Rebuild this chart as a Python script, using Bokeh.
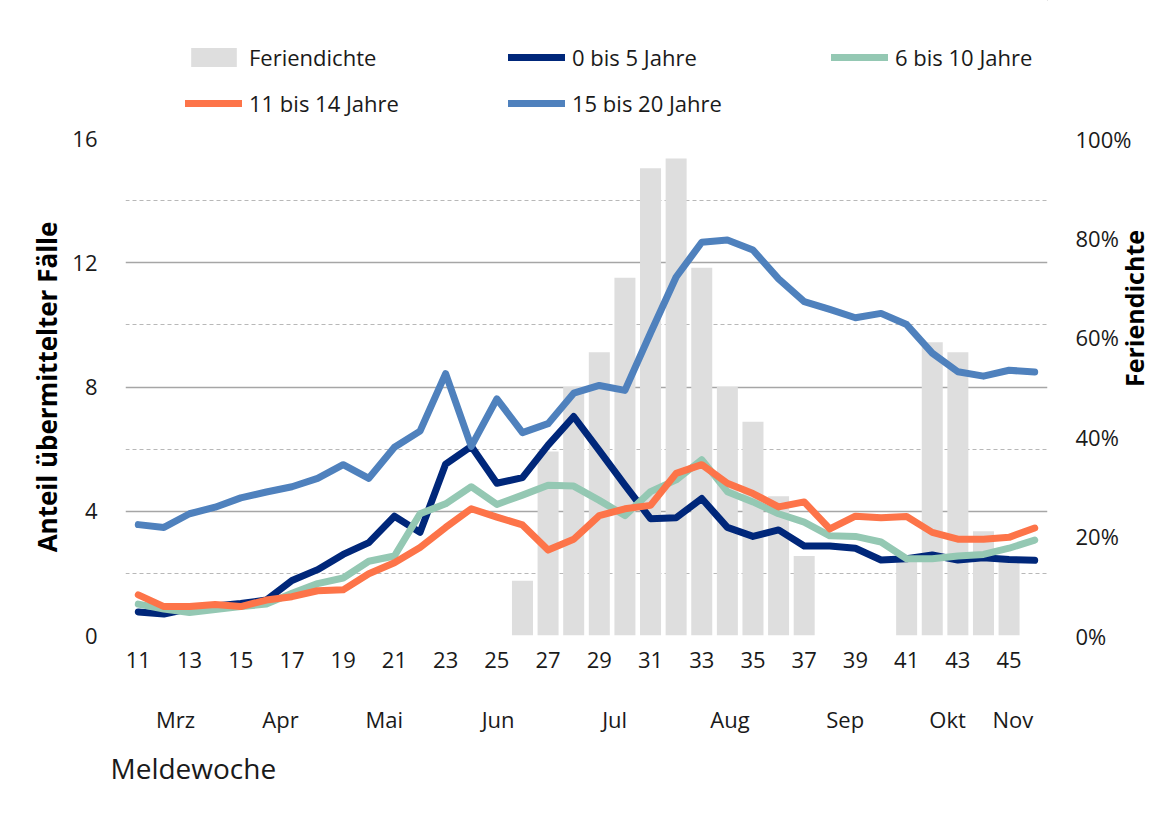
import math
from bokeh.plotting import figure
from bokeh.layouts import column
from bokeh.models import (Range1d, LinearAxis, FixedTicker, PrintfTickFormatter,
                          Legend, LegendItem, Title)
from bokeh.embed import file_html
from bokeh.resources import INLINE

# ---------------- data ----------------
weeks = list(range(11, 47))
tick_weeks = list(range(11, 46, 2))

ferien_weeks = [26, 27, 28, 29, 30, 31, 32, 33, 34, 35, 36, 37, 41, 42, 43, 44, 45]
ferien_pct = [11, 37, 50, 57, 72, 94, 96, 74, 50, 43, 28, 16, 15, 59, 57, 21, 15]

age_0_5 = [0.76, 0.69, 0.87, 0.95, 1.03, 1.14, 1.77, 2.12, 2.61, 2.99, 3.84, 3.32,
           5.52, 6.09, 4.90, 5.08, 6.13, 7.05, 5.95, 4.84, 3.76, 3.79, 4.41, 3.48,
           3.19, 3.40, 2.88, 2.88, 2.81, 2.43, 2.47, 2.59, 2.43, 2.50, 2.45, 2.42]
age_6_10 = [1.01, 0.85, 0.74, 0.84, 0.93, 1.01, 1.36, 1.67, 1.85, 2.39, 2.56, 3.92,
            4.24, 4.79, 4.22, 4.52, 4.84, 4.81, 4.35, 3.86, 4.63, 5.01, 5.66, 4.63,
            4.30, 3.92, 3.65, 3.21, 3.19, 3.01, 2.47, 2.47, 2.56, 2.61, 2.81, 3.07]
age_11_14 = [1.31, 0.93, 0.93, 1.00, 0.93, 1.14, 1.25, 1.44, 1.47, 1.99, 2.34, 2.83,
             3.48, 4.08, 3.81, 3.56, 2.75, 3.10, 3.86, 4.08, 4.19, 5.22, 5.50, 4.90,
             4.57, 4.14, 4.30, 3.43, 3.84, 3.79, 3.83, 3.32, 3.10, 3.10, 3.16, 3.46]
age_15_20 = [3.57, 3.48, 3.92, 4.13, 4.43, 4.62, 4.79, 5.06, 5.50, 5.06, 6.06, 6.58,
             8.43, 6.09, 7.62, 6.53, 6.82, 7.80, 8.05, 7.89, 9.74, 11.54, 12.66, 12.73,
             12.41, 11.48, 10.75, 10.50, 10.23, 10.37, 10.01, 9.09, 8.49, 8.35, 8.54, 8.48]
series = [age_0_5, age_6_10, age_11_14, age_15_20]

left_ticks = [0, 4, 8, 12, 16]
left_minor = [2, 6, 10, 14]
right_ticks = [0, 20, 40, 60, 80, 100]

months = ["Mrz", "Apr", "Mai", "Jun", "Jul", "Aug", "Sep", "Okt", "Nov"]
month_pos = [12.45, 16.55, 20.6, 25.05, 29.6, 34.1, 38.6, 42.6, 45.15]

series_labels = ["0 bis 5 Jahre", "6 bis 10 Jahre", "11 bis 14 Jahre", "15 bis 20 Jahre"]
series_colors = ["#00277a", "#94c8b3", "#fd7449", "#4f81bd"]
bar_color = "#dedede"

FONT = "Open Sans"
TXT = "#1a1a1a"
W = 1173

# ---------------- main chart ----------------
p = figure(width=W, height=694, output_backend="svg", toolbar_location=None,
           x_range=Range1d(10.5, 46.5), y_range=Range1d(0, 16),
           min_border_left=125, min_border_right=126, min_border_top=18,
           min_border_bottom=179)
p.outline_line_color = None
p.extra_y_ranges = {"pct": Range1d(0, 100)}

p.vbar(x=ferien_weeks, top=ferien_pct, width=0.82, y_range_name="pct",
       fill_color=bar_color, line_color=None)

for vals, col in zip(series, series_colors):
    p.line(weeks, vals, line_width=7, line_color=col, line_join="round",
           line_cap="round")

# grid
p.xgrid.grid_line_color = None
p.ygrid.ticker = FixedTicker(ticks=left_ticks, minor_ticks=left_minor)
p.ygrid.grid_line_color = "#a6a6a6"
p.ygrid.grid_line_width = 1.5
p.ygrid.minor_grid_line_color = "#b8b8b8"
p.ygrid.minor_grid_line_dash = "4 3"
p.ygrid.minor_grid_line_width = 1.2

# left axis
ya = p.yaxis[0]
ya.ticker = FixedTicker(ticks=left_ticks)
ya.axis_line_color = None
ya.major_tick_line_color = None
ya.minor_tick_line_color = None
ya.major_label_standoff = 22
ya.major_label_text_font = FONT
ya.major_label_text_font_size = "22px"
ya.major_label_text_color = TXT
ya.axis_label = "Anteil übermittelter Fälle"
ya.axis_label_text_font = FONT
ya.axis_label_text_font_size = "26px"
ya.axis_label_text_font_style = "bold"
ya.axis_label_text_color = "#000000"
ya.axis_label_standoff = 4

# right axis
ra = LinearAxis(y_range_name="pct", ticker=FixedTicker(ticks=right_ticks),
                formatter=PrintfTickFormatter(format="%d%%"))
ra.axis_line_color = None
ra.major_tick_line_color = None
ra.minor_tick_line_color = None
ra.major_label_standoff = 22
ra.major_label_text_font = FONT
ra.major_label_text_font_size = "22px"
ra.major_label_text_color = TXT
ra.axis_label = "Feriendichte"
ra.axis_label_orientation = math.pi / 2
ra.axis_label_text_font = FONT
ra.axis_label_text_font_size = "25px"
ra.axis_label_text_font_style = "bold"
ra.axis_label_text_color = "#000000"
ra.axis_label_standoff = 0
p.add_layout(ra, "right")

# bottom axis (weeks)
xa = p.xaxis[0]
xa.ticker = FixedTicker(ticks=tick_weeks)
xa.axis_line_color = None
xa.major_tick_line_color = None
xa.minor_tick_line_color = None
xa.major_label_standoff = 10
xa.major_label_text_font = FONT
xa.major_label_text_font_size = "22px"
xa.major_label_text_color = TXT

# month axis
ma = LinearAxis(ticker=FixedTicker(ticks=month_pos),
                major_label_overrides=dict(zip(month_pos, months)))
ma.axis_line_color = None
ma.major_tick_line_color = None
ma.minor_tick_line_color = None
ma.major_label_standoff = 27
ma.major_label_text_font = FONT
ma.major_label_text_font_size = "22px"
ma.major_label_text_color = TXT
p.add_layout(ma, "below")

p.add_layout(Title(text="Meldewoche", align="left", offset=-15, standoff=20,
                   text_font=FONT, text_font_size="28px",
                   text_font_style="normal", text_color=TXT), "below")

# ---------------- legend strip above the chart ----------------
# the same series are drawn here outside the visible range, only to feed the legend
lg_fig = figure(width=W, height=120, output_backend="svg", toolbar_location=None,
                x_axis_type=None, y_axis_type=None, min_border=0,
                x_range=Range1d(-3, -2), y_range=Range1d(-3, -2))
lg_fig.outline_line_color = None
lg_fig.grid.grid_line_color = None

proxy_bar = lg_fig.vbar(x=ferien_weeks, top=ferien_pct, width=0.8,
                        fill_color=bar_color, line_color=None)
proxy_lines = [lg_fig.line(weeks, vals, line_width=7, line_color=c, line_cap="round")
               for vals, c in zip(series, series_colors)]

row1 = [LegendItem(label="Feriendichte", renderers=[proxy_bar]),
        LegendItem(label=series_labels[0], renderers=[proxy_lines[0]]),
        LegendItem(label=series_labels[1], renderers=[proxy_lines[1]])]
row2 = [LegendItem(label=series_labels[2], renderers=[proxy_lines[2]]),
        LegendItem(label=series_labels[3], renderers=[proxy_lines[3]])]
for items, loc in [(row1, (60, 48)), (row2, (60, 2))]:
    lg = Legend(items=items, orientation="horizontal", location=loc,
                margin=0, padding=0, spacing=22,
                glyph_width=57, glyph_height=24, label_height=24,
                label_width=237, label_standoff=7,
                label_text_font=FONT, label_text_font_size="22px",
                label_text_color=TXT,
                border_line_color=None, background_fill_alpha=0)
    lg_fig.add_layout(lg, "center")

layout = column(lg_fig, p, spacing=0)
open("out.html", "w").write(file_html(layout, INLINE))
